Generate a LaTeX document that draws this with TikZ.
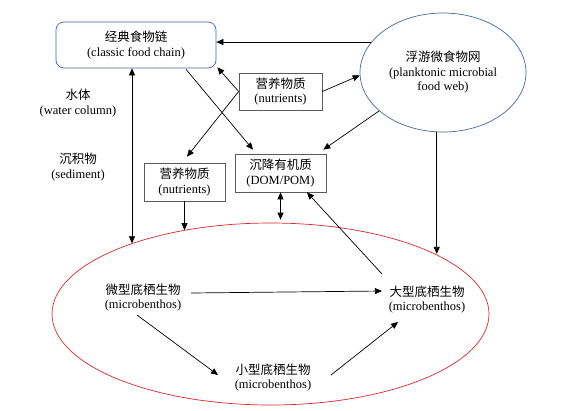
\documentclass[tikz,border=0pt]{standalone}
\usepackage{fontspec}
\setmainfont{Liberation Serif}
\newfontfamily\cjk{Noto Sans CJK SC}
\usetikzlibrary{shapes.geometric,arrows.meta,calc}
\definecolor{bluegray}{RGB}{72,104,156}
\definecolor{boxgray}{RGB}{90,90,90}
\definecolor{benthred}{RGB}{220,40,45}
\tikzset{
  txt/.style={align=center,inner sep=0pt,font=\fontsize{12.5}{14.5}\selectfont},
  graybox/.style={txt,draw=boxgray,line width=0.7pt,rectangle},
  arr/.style={line width=0.7pt,-{Triangle[length=7pt,width=6pt]}},
  dbl/.style={line width=0.7pt,{Triangle[length=7pt,width=6pt]}-{Triangle[length=7pt,width=6pt]}}
}
\begin{document}
\begin{tikzpicture}[x=1pt,y=-1pt]
\useasboundingbox[fill=white] (0,0) rectangle (583,410);
% nodes
\node[txt,draw=bluegray,line width=0.7pt,rounded corners=8pt,minimum width=160pt,minimum height=46pt] (classic) at (136,45)
  {{\cjk 经典食物链}\\(classic food chain)};
\node[txt,ellipse,draw=bluegray,line width=0.7pt,minimum width=166pt,minimum height=119pt] (plank) at (443,72.5)
  {{\cjk 浮游微食物网}\\(planktonic microbial\\food web)};
\node[graybox,minimum width=83pt,minimum height=37pt] (nutA) at (280.5,91.5)
  {{\cjk 营养物质}\\(nutrients)};
\node[graybox,minimum width=81pt,minimum height=38pt] (nutB) at (184.5,182)
  {{\cjk 营养物质}\\(nutrients)};
\node[graybox,minimum width=91pt,minimum height=38pt] (DOM) at (280.5,173)
  {{\cjk 沉降有机质}\\(DOM/POM)};
\node[ellipse,draw=benthred,line width=0.7pt,inner sep=0pt,minimum width=437pt,minimum height=182pt] (benth) at (270.5,314) {};
\node[txt] (water) at (78,103) {{\cjk 水体}\\(water column)};
\node[txt] (sed) at (78,167) {{\cjk 沉积物}\\(sediment)};
\node[txt] (micro) at (143,297.5) {{\cjk 微型底栖生物}\\(microbenthos)};
\node[txt] (macro) at (427,299.5) {{\cjk 大型底栖生物}\\(microbenthos)};
\node[txt] (meio) at (273,377.5) {{\cjk 小型底栖生物}\\(microbenthos)};
\coordinate (cs) at ($(classic.south)+(-4,0)$);
% connectors
\draw[arr] (plank.157.7) -- (plank.157.7 -| classic.east);
\draw[arr] (nutA.west) -- ($(classic.south east)+(1,-1)$);
\draw[arr] (nutA.west) -- ($(nutB.north)+(2.5,-6)$);
\draw[arr] ($(classic.south)+(50,1)$) -- ($(DOM.north)+(-27.5,-4)$);
\draw[arr] (plank.211) -- ($(DOM.north east)+(-3,-4)$);
\draw[arr] (nutA.east) -- (plank.182);
\draw[arr] (plank.264) -- (plank.264 |- benth.20.4);
\draw[dbl] (cs) -- (cs |- benth.153);
\draw[arr] (nutB.south) -- (nutB.south |- benth.136.4);
\draw[dbl] (DOM.south) -- ($(DOM.south |- benth.north)+(0,-3)$);
\draw[arr] ($(macro.center)+(-45,-25.5)$) -- ($(DOM.south)+(26.5,0)$);
\draw[arr] ($(micro.center)+(48,-4.5)$) -- ($(macro.center)+(-45,-8.5)$);
\draw[arr] ($(micro.center)+(-6,17.5)$) -- ($(meio.center)+(-55,-2.5)$);
\draw[arr] ($(meio.center)+(58,-2.5)$) -- ($(macro.center)+(-29,22.5)$);
\end{tikzpicture}
\end{document}
